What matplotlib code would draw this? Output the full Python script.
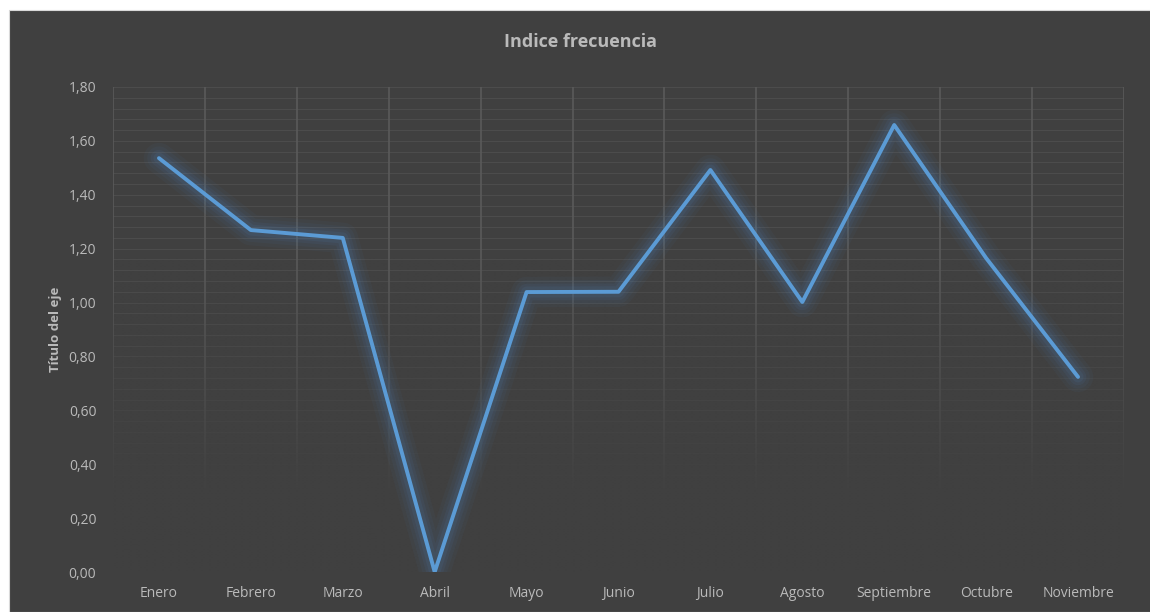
import numpy as np
import matplotlib.pyplot as plt
from matplotlib.patches import Rectangle

meses = ['Enero', 'Febrero', 'Marzo', 'Abril', 'Mayo', 'Junio', 'Julio',
         'Agosto', 'Septiembre', 'Octubre', 'Noviembre']
indice = [1.536, 1.269, 1.240, 0.0, 1.039, 1.040, 1.492, 1.002, 1.659, 1.165, 0.724]
yticks = [0.0, 0.2, 0.4, 0.6, 0.8, 1.0, 1.2, 1.4, 1.6, 1.8]

bg = '#404040'
txt = '#bababa'
azul = '#5b9bd5'
plt.rcParams['font.family'] = ['Open Sans', 'DejaVu Sans']

fig = plt.figure(figsize=(11.5, 6.12), dpi=100, facecolor='white')
fondo = Rectangle((9 / 1150, 0), 1, 1 - 10 / 612, transform=fig.transFigure,
                  facecolor=bg, edgecolor='#d9d9d9', lw=0.8, zorder=-10)
fig.add_artist(fondo)

ax = fig.add_axes([113 / 1150, 40 / 612, 1011 / 1150, 485 / 612])
ax.set_zorder(1)
ax.set_facecolor(bg)
n = len(meses)
x = np.arange(n)

# gridlines
for v in np.arange(0, 1.8001, 0.04):
    ax.axhline(v, color='#4f4f4f', lw=0.6, zorder=1)
for v in np.arange(-0.5, n, 1.0):
    ax.axvline(v, color='#5a5a5a', lw=1.2, zorder=1)

# fade grid toward bottom
grad = np.zeros((200, 2, 4))
r, g, b = [int(bg[i:i + 2], 16) / 255 for i in (1, 3, 5)]
grad[..., 0], grad[..., 1], grad[..., 2] = r, g, b
alpha = np.clip((np.linspace(0, 1, 200) - 0.35) / 0.5, 0, 1)
grad[..., 3] = alpha[:, None]
ax.imshow(grad, extent=(-0.5, n - 0.5, 0, 1.8), origin='upper', aspect='auto',
          zorder=1.5, interpolation='bilinear')
ax.set_xlim(-0.5, n - 0.5)
ax.set_ylim(0, 1.8)

# glow
for w, a in [(22, 0.05), (17, 0.06), (12, 0.08), (8, 0.1)]:
    ax.plot(x, indice, color='#4d85c0', lw=w, alpha=a, solid_capstyle='round',
            solid_joinstyle='round', zorder=2)
ax.plot(x, indice, color=azul, lw=2.8, solid_capstyle='round',
        solid_joinstyle='round', zorder=3)

ax.set_xticks(x)
ax.set_xticklabels(meses)
ax.set_yticks(yticks)
ax.set_yticklabels([f'{v:.2f}'.replace('.', ',') for v in yticks])
ax.tick_params(colors=txt, labelsize=10, length=0)
ax.tick_params(axis='x', pad=10)
ax.tick_params(axis='y', pad=12)
for s in ax.spines.values():
    s.set_visible(False)

ax.set_ylabel('Título del eje', color=txt, fontsize=9.5, fontweight='bold', labelpad=5)
fig.text(580 / 1150, 1 - 42 / 612, 'Indice frecuencia', color=txt, fontsize=13,
         fontweight='bold', ha='center', va='center')

fig.savefig('out.png', dpi=100, facecolor='white')
